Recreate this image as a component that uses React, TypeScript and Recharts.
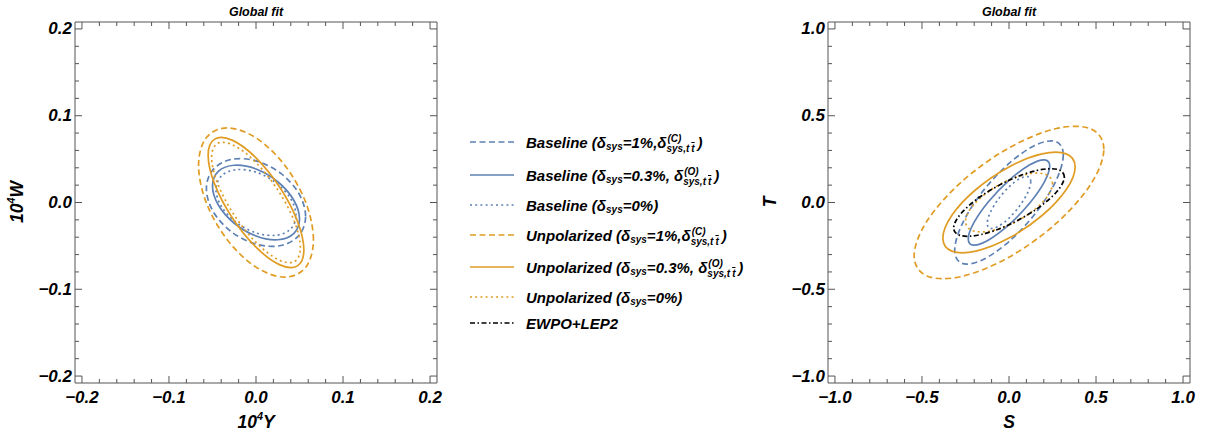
import React from "react";
import { LineChart, Line, XAxis, YAxis } from "recharts";

const BLUE = "#5E81B5";
const ORANGE = "#E19C24";
const FRAME = "#555";
const FONT = '"Liberation Sans", Arial, sans-serif';

const DASHED = "6 3.5";
const SOLID = undefined;
const DOTTED = "2 3.2";
const DOTDASH = "5 2.5 1.5 2.5";

// left panel: 10^4 Y vs 10^4 W contours
const ywBaseline1 = [[0.057, -0.016], [0.0494, 0.0101], [0.0285, 0.0336], [0, 0.048], [-0.0285, 0.0496], [-0.0494, 0.0379], [-0.057, 0.016], [-0.0494, -0.0101], [-0.0285, -0.0336], [0, -0.048], [0.0285, -0.0496], [0.0494, -0.0379]];
const ywBaseline03 = [[0.05, -0.019], [0.0433, 0.0029], [0.025, 0.0239], [0, 0.0386], [-0.025, 0.0429], [-0.0433, 0.0358], [-0.05, 0.019], [-0.0433, -0.0029], [-0.025, -0.0239], [0, -0.0386], [0.025, -0.0429], [0.0433, -0.0358]];
const ywBaseline0 = [[0.046, -0.015], [0.0398, 0.0045], [0.023, 0.0228], [0, 0.035], [-0.023, 0.0378], [-0.0398, 0.0305], [-0.046, 0.015], [-0.0398, -0.0045], [-0.023, -0.0228], [0, -0.035], [0.023, -0.0378], [0.0398, -0.0305]];
const ywUnpol1 = [[0.066, -0.043], [0.0572, 0.0001], [0.033, 0.043], [0, 0.0745], [-0.033, 0.086], [-0.0572, 0.0745], [-0.066, 0.043], [-0.0572, -0.0001], [-0.033, -0.043], [0, -0.0745], [0.033, -0.086], [0.0572, -0.0745]];
const ywUnpol03 = [[0.055, -0.0545], [0.0476, -0.0214], [0.0275, 0.0173], [0, 0.0515], [-0.0275, 0.0719], [-0.0476, 0.073], [-0.055, 0.0545], [-0.0476, 0.0214], [-0.0275, -0.0173], [0, -0.0515], [0.0275, -0.0719], [0.0476, -0.073]];
const ywUnpol0 = [[0.051, -0.052], [0.0442, -0.022], [0.0255, 0.0138], [0, 0.046], [-0.0255, 0.0658], [-0.0442, 0.068], [-0.051, 0.052], [-0.0442, 0.022], [-0.0255, -0.0138], [0, -0.046], [0.0255, -0.0658], [0.0442, -0.068]];

// right panel: S vs T contours
const stBaseline1 = [[0.312, 0.275], [0.2702, 0.3507], [0.156, 0.3324], [0, 0.225], [-0.156, 0.0574], [-0.2702, -0.1257], [-0.312, -0.275], [-0.2702, -0.3507], [-0.156, -0.3324], [0, -0.225], [0.156, -0.0574], [0.2702, 0.1257]];
const stBaseline03 = [[0.234, 0.21], [0.2026, 0.2459], [0.117, 0.2158], [0, 0.128], [-0.117, 0.0058], [-0.2026, -0.1179], [-0.234, -0.21], [-0.2026, -0.2459], [-0.117, -0.2158], [0, -0.128], [0.117, -0.0058], [0.2026, 0.1179]];
const stBaseline0 = [[0.125, 0.12], [0.1083, 0.1489], [0.0625, 0.1379], [0, 0.09], [-0.0625, 0.0179], [-0.1083, -0.0589], [-0.125, -0.12], [-0.1083, -0.1489], [-0.0625, -0.1379], [0, -0.09], [0.0625, -0.0179], [0.1083, 0.0589]];
const stUnpol1 = [[0.545, 0.307], [0.472, 0.4234], [0.2725, 0.4263], [0, 0.315], [-0.2725, 0.1193], [-0.472, -0.1084], [-0.545, -0.307], [-0.472, -0.4234], [-0.2725, -0.4263], [0, -0.315], [0.2725, -0.1193], [0.472, 0.1084]];
const stUnpol03 = [[0.38, 0.205], [0.3291, 0.28], [0.19, 0.28], [0, 0.205], [-0.19, 0.075], [-0.3291, -0.075], [-0.38, -0.205], [-0.3291, -0.28], [-0.19, -0.28], [0, -0.205], [0.19, -0.075], [0.3291, 0.075]];
const stUnpol0 = [[0.25, 0.109], [0.2165, 0.1594], [0.125, 0.1671], [0, 0.13], [-0.125, 0.0581], [-0.2165, -0.0294], [-0.25, -0.109], [-0.2165, -0.1594], [-0.125, -0.1671], [0, -0.13], [0.125, -0.0581], [0.2165, 0.0294]];
const stEwpo = [[0.318, 0.147], [0.2754, 0.1913], [0.159, 0.1843], [0, 0.128], [-0.159, 0.0373], [-0.2754, -0.0633], [-0.318, -0.147], [-0.2754, -0.1913], [-0.159, -0.1843], [0, -0.128], [0.159, -0.0373], [0.2754, 0.0633]];

const ywTicks = [-0.2, -0.18, -0.16, -0.14, -0.12, -0.1, -0.08, -0.06, -0.04, -0.02, 0, 0.02, 0.04, 0.06, 0.08, 0.1, 0.12, 0.14, 0.16, 0.18, 0.2];
const stTicks = [-1, -0.9, -0.8, -0.7, -0.6, -0.5, -0.4, -0.3, -0.2, -0.1, 0, 0.1, 0.2, 0.3, 0.4, 0.5, 0.6, 0.7, 0.8, 0.9, 1];

const legendNames = ["Baseline", "Baseline", "Baseline", "Unpolarized", "Unpolarized", "Unpolarized", "EWPO+LEP2"];
const legendSys = ["1%", "0.3%", "0%", "1%", "0.3%", "0%", ""];
const legendCorr = ["C", "O", "", "C", "O", "", ""];

const pts = (a: number[][]) => a.map(([x, y]) => ({ x, y }));

const styles = [
  { color: BLUE, dash: DASHED },
  { color: BLUE, dash: SOLID },
  { color: BLUE, dash: DOTTED },
  { color: ORANGE, dash: DASHED },
  { color: ORANGE, dash: SOLID },
  { color: ORANGE, dash: DOTTED },
  { color: "#000", dash: DOTDASH },
];

const ywSeries = [ywBaseline1, ywBaseline03, ywBaseline0, ywUnpol1, ywUnpol03, ywUnpol0];
const stSeries = [stBaseline1, stBaseline03, stBaseline0, stUnpol1, stUnpol03, stUnpol0, stEwpo];

// closed Catmull-Rom curve so the contours come out as smooth loops
const closedSpline = (ctx: any) => {
  let p: number[][] = [];
  return {
    areaStart() {},
    areaEnd() {},
    lineStart() {
      p = [];
    },
    point(x: number, y: number) {
      p.push([+x, +y]);
    },
    lineEnd() {
      const n = p.length;
      if (n < 3) return;
      ctx.moveTo(p[0][0], p[0][1]);
      for (let i = 0; i < n; i++) {
        const a = p[(i + n - 1) % n];
        const b = p[i];
        const c = p[(i + 1) % n];
        const d = p[(i + 2) % n];
        ctx.bezierCurveTo(
          b[0] + (c[0] - a[0]) / 6,
          b[1] + (c[1] - a[1]) / 6,
          c[0] - (d[0] - b[0]) / 6,
          c[1] - (d[1] - b[1]) / 6,
          c[0],
          c[1]
        );
      }
      ctx.closePath();
    },
  };
};

const fmt = (v: number) => (v < 0 ? "\u2212" : "") + Math.abs(v).toFixed(1);

const makeTick =
  (side: string, isMajor: (v: number) => boolean, labels: boolean) =>
  (props: any) => {
    const { x, y, payload } = props;
    const v = payload.value;
    const major = isMajor(v);
    const len = major ? 7 : 4;
    const txt = {
      fontFamily: FONT,
      fontSize: 17,
      fontWeight: "bold" as const,
      fontStyle: "italic" as const,
      fill: "#000",
    };
    if (side === "bottom")
      return (
        <g>
          <line x1={x} x2={x} y1={y} y2={y - len} stroke={FRAME} />
          {labels && major && (
            <text x={x} y={y + 14} textAnchor="middle" dominantBaseline="central" style={txt}>
              {fmt(v)}
            </text>
          )}
        </g>
      );
    if (side === "top") return <line x1={x} x2={x} y1={y} y2={y + len} stroke={FRAME} />;
    if (side === "left")
      return (
        <g>
          <line x1={x} x2={x + len} y1={y} y2={y} stroke={FRAME} />
          {labels && major && (
            <text x={x - 3} y={y} textAnchor="end" dominantBaseline="central" style={txt}>
              {fmt(v)}
            </text>
          )}
        </g>
      );
    return <line x1={x} x2={x - len} y1={y} y2={y} stroke={FRAME} />;
  };

function Panel({ width, margin, domain, ticks, isMajor, series }: any) {
  const common = {
    type: "number" as const,
    domain,
    ticks,
    interval: 0 as const,
    allowDataOverflow: true,
    tickSize: 0,
    tickMargin: 0,
    tickLine: false,
    axisLine: { stroke: FRAME, strokeWidth: 1 },
  };
  return (
    <LineChart width={width} height={436} margin={margin}>
      <XAxis xAxisId="b" dataKey="x" height={1} tick={makeTick("bottom", isMajor, true)} {...common} />
      <XAxis xAxisId="t" dataKey="x" orientation="top" height={1} tick={makeTick("top", isMajor, false)} {...common} />
      <YAxis yAxisId="l" width={1} tick={makeTick("left", isMajor, true)} {...common} />
      <YAxis yAxisId="r" orientation="right" width={1} tick={makeTick("right", isMajor, false)} {...common} />
      {series.map((s: number[][], i: number) => (
        <Line
          key={i}
          xAxisId="b"
          yAxisId="l"
          data={pts(s)}
          dataKey="y"
          type={closedSpline as any}
          stroke={styles[i].color}
          strokeWidth={1.7}
          strokeDasharray={styles[i].dash}
          dot={false}
          activeDot={false}
          isAnimationActive={false}
        />
      ))}
    </LineChart>
  );
}

function Label({ x, y, size, rotate, children }: any) {
  return (
    <div
      style={{
        position: "absolute",
        left: x,
        top: y,
        fontSize: size,
        whiteSpace: "nowrap",
        lineHeight: 1,
        fontWeight: "bold",
        fontStyle: "italic",
        color: "#000",
        transform: `translate(-50%, -50%)${rotate ? " rotate(-90deg)" : ""}`,
      }}
    >
      {children}
    </div>
  );
}

const Pow = () => (
  <span style={{ fontSize: "0.62em", position: "relative", top: "-0.75em" }}>4</span>
);

function SupSub({ sup }: { sup: string }) {
  return (
    <span style={{ position: "relative", display: "inline-block", width: 31, height: 0 }}>
      <span style={{ position: "absolute", left: 1, bottom: 4, fontSize: 10, lineHeight: 1 }}>({sup})</span>
      <span style={{ position: "absolute", left: 0, top: -3.5, fontSize: 10, lineHeight: 1 }}>
        sys,t<span style={{ textDecoration: "overline", marginLeft: 2 }}>t</span>
      </span>
    </span>
  );
}

function LegendText({ i }: { i: number }) {
  if (!legendSys[i]) return <span>{legendNames[i]}</span>;
  return (
    <span>
      {legendNames[i]} (δ
      <span style={{ fontSize: 10, position: "relative", top: 2 }}>sys</span>={legendSys[i]}
      {legendCorr[i] && (
        <>
          {legendSys[i] === "1%" ? "," : ", "}δ
          <SupSub sup={legendCorr[i]} />
        </>
      )}
      )
    </span>
  );
}

const legendRows = [142, 175, 205, 235, 267, 297, 323];

export default function App() {
  return (
    <div
      style={{
        position: "absolute",
        left: 0,
        top: 0,
        width: 1209,
        height: 436,
        background: "#fff",
        fontFamily: FONT,
        overflow: "hidden",
      }}
    >
      <div style={{ position: "absolute", left: 0, top: 0 }}>
        <Panel
          width={460}
          margin={{ top: 21, right: 22, bottom: 52, left: 74 }}
          domain={[-0.208, 0.208]}
          ticks={ywTicks}
          isMajor={(v: number) => Math.abs(v * 10 - Math.round(v * 10)) < 1e-6}
          series={ywSeries}
        />
      </div>
      <div style={{ position: "absolute", left: 760, top: 0 }}>
        <Panel
          width={449}
          margin={{ top: 21, right: 18, bottom: 52, left: 67 }}
          domain={[-1.04, 1.04]}
          ticks={stTicks}
          isMajor={(v: number) => Math.abs(v * 2 - Math.round(v * 2)) < 1e-6}
          series={stSeries}
        />
      </div>

      <Label x={256} y={12} size={12.5}>Global fit</Label>
      <Label x={1009} y={12} size={12.5}>Global fit</Label>
      <Label x={256} y={423} size={17.5}>
        10<Pow />Y
      </Label>
      <Label x={18} y={202} size={17.5} rotate>
        10<Pow />W
      </Label>
      <Label x={1009} y={423} size={17.5}>S</Label>
      <Label x={771} y={202} size={17.5} rotate>T</Label>

      {legendRows.map((y, i) => (
        <div
          key={i}
          style={{
            position: "absolute",
            left: 470,
            top: y - 10,
            height: 20,
            display: "flex",
            alignItems: "center",
            whiteSpace: "nowrap",
            fontSize: 15,
            fontWeight: "bold",
            fontStyle: "italic",
            lineHeight: 1,
          }}
        >
          <svg width={44} height={6} style={{ marginRight: 12 }}>
            <line
              x1={0}
              x2={44}
              y1={3}
              y2={3}
              stroke={styles[i].color}
              strokeWidth={1.7}
              strokeDasharray={styles[i].dash}
            />
          </svg>
          <LegendText i={i} />
        </div>
      ))}
    </div>
  );
}
